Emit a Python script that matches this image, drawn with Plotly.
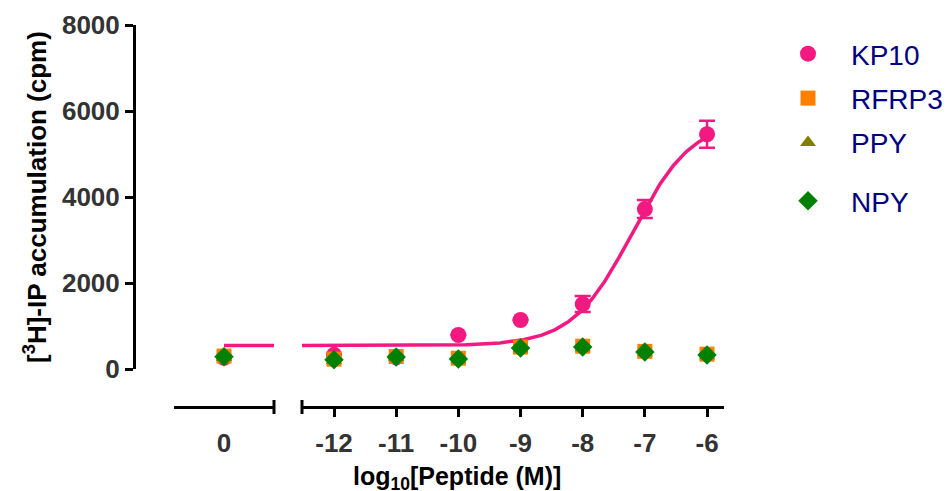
import numpy as np
import plotly.graph_objects as go

# Concentrations: basal (0) on its own axis segment, then log10 doses
log_dose = [-12, -11, -10, -9, -8, -7, -6]
log_dose_labels = ["-12", "-11", "-10", "-9", "-8", "-7", "-6"]

# Mean [3H]-IP accumulation (cpm)
kp10_basal = 260
kp10 = [330, 270, 790, 1140, 1510, 3720, 5460]
kp10_err = [0, 0, 0, 0, 185, 210, 315]

rfrp3_basal = 300
rfrp3 = [230, 290, 250, 510, 530, 410, 345]

ppy_basal = 270
ppy = [200, 265, 215, 470, 495, 380, 310]

npy_basal = 285
npy = [215, 280, 230, 490, 510, 395, 325]

y_ticks = [0, 2000, 4000, 6000, 8000]

# Fitted sigmoidal dose-response parameters for KP10
fit_bottom = 545
fit_top = 5800
fit_log_ec50 = -7.2
fit_hill = 0.9

PINK = "#F21A80"
ORANGE = "#FF7F00"
OLIVE = "#808000"
GREEN = "#008000"
NAVY = "#000080"
FONT = "Liberation Sans"

W, H = 951, 491
x_axis_pos = 1 - 407 / H


def sigmoid(x):
    return fit_bottom + (fit_top - fit_bottom) / (1 + 10 ** ((fit_log_ec50 - x) * fit_hill))


xfit = np.linspace(-12.6, -6, 300)
yfit = sigmoid(xfit)

fig = go.Figure()

# Fit curve: flat bottom on the basal segment, sigmoid on the dose segment
fig.add_trace(go.Scatter(x=[0, 1.2], y=[fit_bottom, fit_bottom], xaxis="x", yaxis="y",
                         mode="lines", line=dict(color=PINK, width=3.5),
                         showlegend=False, hoverinfo="skip"))
fig.add_trace(go.Scatter(x=xfit, y=yfit, xaxis="x2", yaxis="y",
                         mode="lines", line=dict(color=PINK, width=3.5),
                         showlegend=False, hoverinfo="skip"))

series = [
    ("KP10", kp10_basal, kp10, kp10_err, PINK, "circle", 16, "legend"),
    ("RFRP3", rfrp3_basal, rfrp3, None, ORANGE, "square", 15, "legend"),
    ("PPY", ppy_basal, ppy, None, OLIVE, "triangle-up", 14, "legend"),
    ("NPY", npy_basal, npy, None, GREEN, "diamond", 15, "legend2"),
]

for name, basal, vals, err, color, symbol, size, leg in series:
    marker = dict(color=color, symbol=symbol, size=size, line=dict(width=0))
    fig.add_trace(go.Scatter(x=[0], y=[basal], xaxis="x", yaxis="y", mode="markers",
                             marker=marker, showlegend=False, legendgroup=name))
    ekw = {}
    if err is not None:
        ekw["error_y"] = dict(type="data", array=err, visible=True, color=color,
                              thickness=2.5, width=8)
    fig.add_trace(go.Scatter(x=log_dose, y=vals, xaxis="x2", yaxis="y", mode="markers",
                             marker=marker, name=name, legendgroup=name, legend=leg, **ekw))

tick_font = dict(family=FONT, size=26, color="#333333", weight="bold")
axis_common = dict(showline=True, linecolor="black", linewidth=3, showgrid=False,
                   zeroline=False, anchor="free", position=x_axis_pos, tickfont=tick_font,
                   automargin=False)
legend_font = dict(family=FONT, size=28, color=NAVY)

fig.update_layout(
    width=W, height=H,
    margin=dict(l=0, r=0, t=0, b=0),
    paper_bgcolor="white", plot_bgcolor="white",
    xaxis=dict(domain=[174 / W, 274 / W], range=[-1, 1], tickvals=[0], ticktext=["0"],
               ticks="", ticklabelstandoff=12, **axis_common),
    xaxis2=dict(domain=[302 / W, 724 / W], range=[-12.515, -5.727],
                tickvals=log_dose, ticktext=log_dose_labels, ticklabelstandoff=4,
                ticks="outside", ticklen=8, tickwidth=3, tickcolor="black", **axis_common),
    yaxis=dict(domain=[1 - 369 / H, 1 - 25 / H], range=[0, 8000], tickvals=y_ticks,
               anchor="free", position=134 / W, showline=True, linecolor="black", linewidth=3,
               ticks="outside", ticklen=8, tickwidth=3, tickcolor="black",
               showgrid=False, zeroline=False, automargin=False, tickfont=tick_font,
               title=dict(text="[<sup>3</sup>H]-IP accumulation (cpm)", standoff=6,
                          font=dict(family=FONT, size=26, color="black", weight="bold"))),
    legend=dict(x=765 / W, y=1 - 29 / H, xanchor="left", yanchor="top",
                font=legend_font, tracegroupgap=5, itemwidth=76,
                bgcolor="rgba(0,0,0,0)"),
    legend2=dict(x=765 / W, y=1 - 176 / H, xanchor="left", yanchor="top",
                 font=legend_font, itemwidth=76,
                 bgcolor="rgba(0,0,0,0)"),
    annotations=[dict(text="log<sub>10</sub>[Peptide (M)]", xref="paper", yref="paper",
                      x=457 / W, y=1 - 478 / H, showarrow=False,
                      xanchor="center", yanchor="middle",
                      font=dict(family=FONT, size=25, color="black", weight="bold"))],
    shapes=[
        dict(type="line", xref="x domain", yref="paper", x0=1, x1=1,
             y0=x_axis_pos - 7 / H, y1=x_axis_pos + 7 / H, line=dict(color="black", width=3)),
        dict(type="line", xref="x2 domain", yref="paper", x0=0, x1=0,
             y0=x_axis_pos - 7 / H, y1=x_axis_pos + 7 / H, line=dict(color="black", width=3)),
    ],
)

fig.write_html("out.html")
